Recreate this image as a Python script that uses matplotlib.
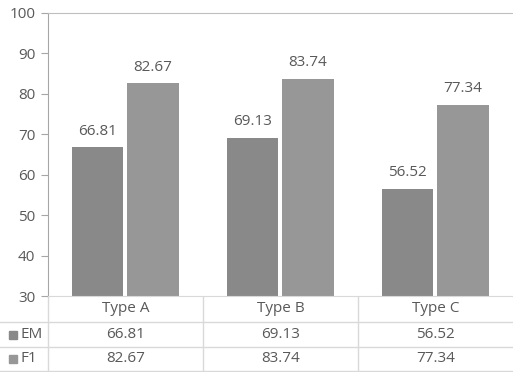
import matplotlib.pyplot as plt
from matplotlib.lines import Line2D
from matplotlib.patches import Rectangle

categories = ['Type A', 'Type B', 'Type C']
series = ['EM', 'F1']
em = [66.81, 69.13, 56.52]
f1 = [82.67, 83.74, 77.34]
yticks = [30, 40, 50, 60, 70, 80, 90, 100]

text_c = '#595959'
colors = ['#898989', '#979797']
fs = 11
W, H = 513, 372

plt.rcParams['font.family'] = ['Open Sans', 'DejaVu Sans']
fig = plt.figure(figsize=(W / 100, H / 100), dpi=100)

# chart area in pixels: x 48..513, y 13..296
ax = fig.add_axes([48 / W, (H - 296) / H, 465 / W, 283 / H])
ax.set_xlim(-0.5, 2.5)
ax.set_ylim(30, 100)

offs = [-0.18, 0.177]
for vals, off, c in zip([em, f1], offs, colors):
    xs = [i + off for i in range(len(categories))]
    ax.bar(xs, vals, width=0.33, color=c, bottom=0)
    for x, v in zip(xs, vals):
        ax.annotate('%.2f' % v, (x, v), xytext=(0, 6), textcoords='offset points',
                    ha='center', va='bottom', fontsize=fs, color=text_c)

ax.set_yticks(yticks)
ax.set_yticklabels([str(t) for t in yticks], fontsize=fs, color=text_c)
ax.tick_params(axis='y', length=5, color='#a6a6a6', pad=4)
ax.set_xticks([])
ax.spines['right'].set_visible(False)
ax.spines['left'].set_color('#a6a6a6')
ax.spines['top'].set_color('#bfbfbf')
ax.spines['bottom'].set_color('#d9d9d9')

# data table under the chart, in pixel coordinates
tab = fig.add_axes([0, 0, 1, 1], zorder=-1)
tab.set_xlim(0, W)
tab.set_ylim(H, 0)
tab.axis('off')
line_c = '#d9d9d9'
rows = [296, 322, 347, 371]
col_w = 465 / len(categories)
cols = [48 + i * col_w for i in range(len(categories) + 1)]

for y in rows[1:]:
    tab.add_line(Line2D([0, W], [y, y], color=line_c, lw=1))
for x in cols[:-1]:
    tab.add_line(Line2D([x, x], [rows[0], rows[3]], color=line_c, lw=1))

for i, cat in enumerate(categories):
    cx = (cols[i] + cols[i + 1]) / 2
    tab.text(cx, (rows[0] + rows[1]) / 2, cat, ha='center', va='center',
             fontsize=fs, color=text_c)
    for r, vals in enumerate([em, f1]):
        tab.text(cx, (rows[r + 1] + rows[r + 2]) / 2, '%.2f' % vals[i],
                 ha='center', va='center', fontsize=fs, color=text_c)

for r, (name, c) in enumerate(zip(series, colors)):
    yc = (rows[r + 1] + rows[r + 2]) / 2
    tab.add_patch(Rectangle((9, yc - 4), 8, 8, color=c))
    tab.text(20, yc, name, ha='left', va='center', fontsize=fs, color=text_c)

fig.savefig('out.png', dpi=100)
